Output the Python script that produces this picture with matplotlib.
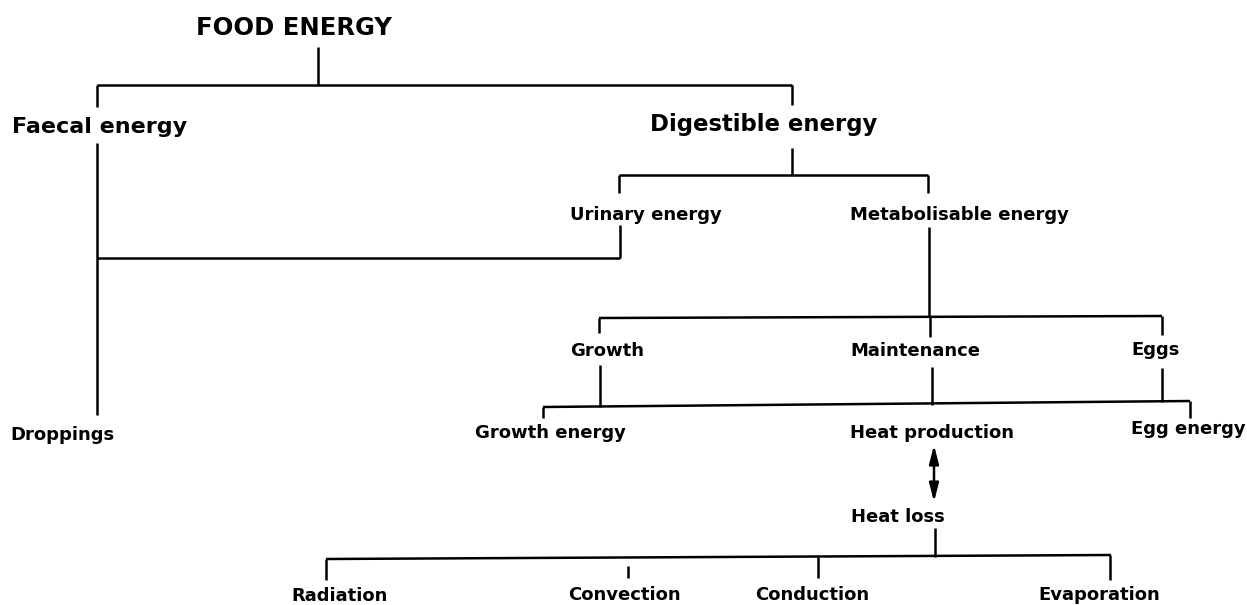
#Energy flow tree for poultry food energy, redrawn as a line diagram
import matplotlib.pyplot as plt

# node labels, with left edge x and baseline y (pixel space of a 1247x605 image)
labels = ["FOOD ENERGY", "Faecal energy", "Digestible energy",
          "Urinary energy", "Metabolisable energy",
          "Growth", "Maintenance", "Eggs",
          "Droppings", "Growth energy", "Heat production", "Egg energy",
          "Heat loss",
          "Radiation", "Convection", "Conduction", "Evaporation"]
label_x = [196, 12, 650, 570, 850, 570, 850, 1131, 10, 475, 850, 1131, 851,
           291, 568, 755, 1038]
label_y = [35, 133, 131, 220, 220, 356, 356, 355, 440, 438, 438, 434, 522,
           601, 600, 600, 600]
label_size = [17.5, 16, 16.4, 13, 13, 13, 13, 13, 13, 13, 13, 13, 13,
              13, 13, 13, 13]

# connector segments: (x0, y0, x1, y1)
segments = [
    (318, 47, 318, 85), (97, 85, 792, 85),
    (97, 85, 97, 107), (97, 143, 97, 415),
    (792, 85, 792, 105), (792, 148, 792, 175),
    (619, 175, 928, 175), (619, 175, 619, 193), (928, 175, 928, 193),
    (620, 225, 620, 258), (97, 258, 620, 258),
    (929, 227, 929, 317), (599, 318, 1162, 316),
    (599, 318, 599, 333), (930, 317, 930, 337), (1162, 316, 1162, 335),
    (600, 365, 600, 407), (932, 367, 932, 405), (1162, 368, 1162, 402),
    (543, 407, 1190, 401), (543, 407, 543, 418), (1190, 401, 1190, 418),
    (935, 528, 935, 557), (326, 559, 1111, 555),
    (326, 559, 326, 580), (628, 566, 628, 578), (818, 557, 818, 578),
    (1110, 555, 1110, 580),
]

fig = plt.figure(figsize=(12.47, 6.05), dpi=100)
ax = fig.add_axes([0, 0, 1, 1])
ax.set_xlim(0, 1247)
ax.set_ylim(605, 0)
ax.axis('off')

for x0, y0, x1, y1 in segments:
    ax.plot([x0, x1], [y0, y1], color='black', lw=1.8, solid_capstyle='butt')

for txt, x, y, s in zip(labels, label_x, label_y, label_size):
    ax.text(x, y, txt, fontsize=s, fontweight='bold', ha='left', va='baseline',
            family='DejaVu Sans')

# heat production <-> heat loss
ax.annotate("", xy=(934, 445), xytext=(934, 502),
            arrowprops=dict(arrowstyle='<|-|>,head_length=1.1,head_width=0.28',
                            lw=1.8, color='black', mutation_scale=10,
                            shrinkA=0, shrinkB=0))

fig.savefig("out.png", dpi=100, facecolor='white')
